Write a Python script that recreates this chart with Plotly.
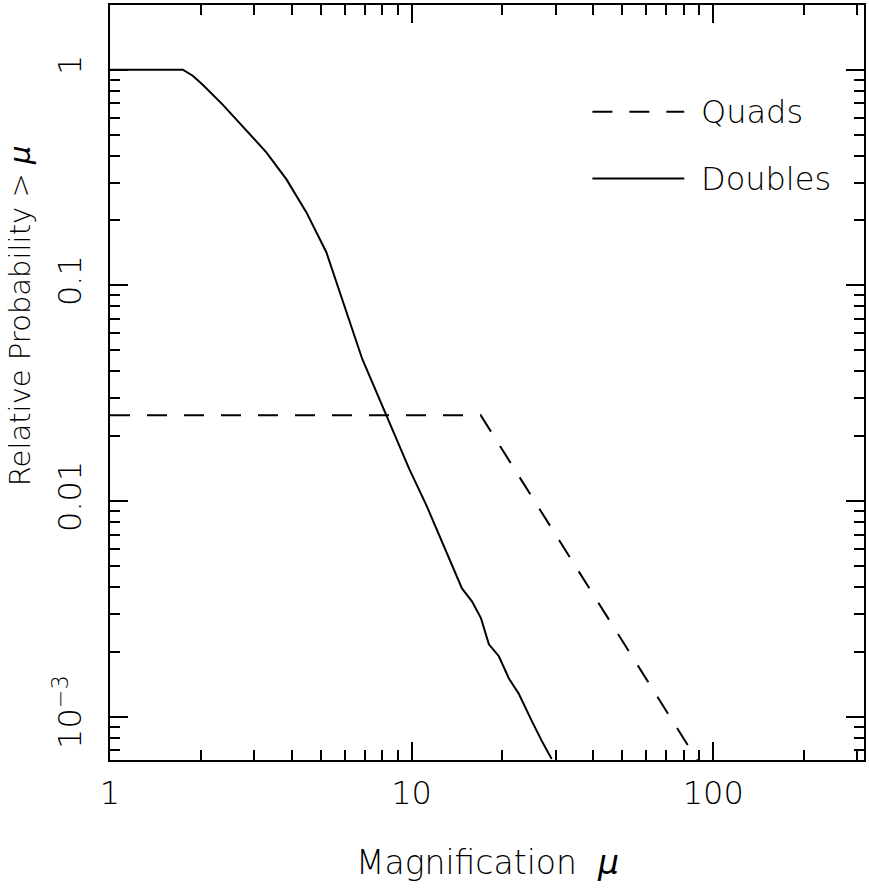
import plotly.graph_objects as go

# Doubles curve
doubles_mu = [1.0, 1.743, 1.881, 2.03, 2.364, 2.838, 3.304, 3.847, 4.48, 5.216, 5.891,
              6.86, 8.235, 9.811, 11.17, 12.61, 13.61, 14.69, 15.85, 16.98, 18.04,
              19.47, 21.0, 22.67, 25.02, 27.01, 29.14]
doubles_p = [1.0, 1.0, 0.938, 0.852, 0.689, 0.522, 0.413, 0.31, 0.218, 0.1425, 0.0855,
             0.0456, 0.0251, 0.01415, 0.00964, 0.0065, 0.00509, 0.00394, 0.00343,
             0.00287, 0.00217, 0.00191, 0.00151, 0.00128, 0.000958, 0.000774, 0.000638]

# Quads curve
quads_mu = [1.0, 16.95, 88.5]
quads_p = [0.025, 0.025, 0.00063]

x_major = [1, 10, 100]
x_labels = ["1", "10", "100"]
x_minor = [2, 3, 4, 5, 6, 7, 8, 9, 20, 30, 40, 50, 60, 70, 80, 90, 200, 300]
y_major = [0.001, 0.01, 0.1, 1]
y_labels = ["10<sup>\u22123</sup>", "0.01", "0.1", "1"]
y_minor = [7e-4, 8e-4, 9e-4, 0.002, 0.003, 0.004, 0.005, 0.006, 0.007, 0.008, 0.009,
           0.02, 0.03, 0.04, 0.05, 0.06, 0.07, 0.08, 0.09,
           0.2, 0.3, 0.4, 0.5, 0.6, 0.7, 0.8, 0.9]

X_RANGE = [0, 2.5]
Y_RANGE = [-3.2, 0.3]

FONT = "DejaVu Sans"
L, R, T, B = 110, 4, 3, 128
W, H = 869, 888
PW, PH = W - L - R, H - T - B

def px(x):
    return (x - L) / PW

def py(y):
    return (H - B - y) / PH

def font(size=32):
    return dict(family=FONT, size=size, color="black", weight=300)

fig = go.Figure()
# quads sits on the mirrored axes (same ranges) so those get drawn with their ticks
fig.add_trace(go.Scatter(x=quads_mu, y=quads_p, mode="lines", name="Quads",
                         xaxis="x2", yaxis="y2",
                         line=dict(color="black", width=2, dash="20px,17px")))
fig.add_trace(go.Scatter(x=doubles_mu, y=doubles_p, mode="lines", name="Doubles",
                         line=dict(color="black", width=2)))

tick_style = dict(ticks="inside", ticklen=18, tickwidth=2, tickcolor="black",
                  showgrid=False, zeroline=False)
minor_style = dict(tickmode="array", ticks="inside", ticklen=10, tickwidth=2,
                   tickcolor="black")

fig.update_layout(
    xaxis=dict(type="log", range=X_RANGE, tickmode="array", tickvals=x_major,
               ticktext=x_labels, showline=True, linecolor="black", linewidth=2,
               mirror=True, tickfont=font(), ticklabelstandoff=4,
               minor=dict(tickvals=x_minor, **minor_style), **tick_style),
    yaxis=dict(type="log", range=Y_RANGE, tickmode="array", tickvals=y_major,
               ticktext=y_labels, tickangle=-90, showline=True, linecolor="black",
               linewidth=2, mirror=True, tickfont=font(), ticklabelstandoff=14,
               minor=dict(tickvals=y_minor, **minor_style), **tick_style),
    xaxis2=dict(type="log", range=X_RANGE, overlaying="x", side="top",
                tickmode="array", tickvals=x_major, showticklabels=False,
                minor=dict(tickvals=x_minor, **minor_style), **tick_style),
    yaxis2=dict(type="log", range=Y_RANGE, overlaying="y", side="right",
                tickmode="array", tickvals=y_major, showticklabels=False,
                minor=dict(tickvals=y_minor, **minor_style), **tick_style),
)

# legend drawn by hand, the way the original has it
fig.add_shape(type="line", xref="paper", yref="paper",
              x0=px(593), x1=px(685), y0=py(110), y1=py(110),
              line=dict(color="black", width=2, dash="20px,17px"))
fig.add_shape(type="line", xref="paper", yref="paper",
              x0=px(593), x1=px(685), y0=py(177), y1=py(177),
              line=dict(color="black", width=2))
for label, ypix in [("Quads", 110), ("Doubles", 177)]:
    fig.add_annotation(text=label, xref="paper", yref="paper", x=px(700), y=py(ypix),
                       xanchor="left", yanchor="middle", showarrow=False, font=font())

fig.add_annotation(text="Magnification  <i>\u03bc</i>", xref="paper", yref="paper",
                   x=px(488), y=py(863), xanchor="center", yanchor="middle",
                   showarrow=False, font=font(33))
fig.add_annotation(text="Relative Probability > <i>\u03bc</i>", xref="paper", yref="paper",
                   x=px(20), y=py(315), xanchor="center", yanchor="middle",
                   textangle=-90, showarrow=False, font=font(29))

fig.update_layout(
    width=W, height=H, showlegend=False,
    margin=dict(l=L, r=R, t=T, b=B),
    paper_bgcolor="white", plot_bgcolor="white",
)

fig.write_html("out.html", config={"displayModeBar": False},
               post_script="document.body.style.margin='0';")
